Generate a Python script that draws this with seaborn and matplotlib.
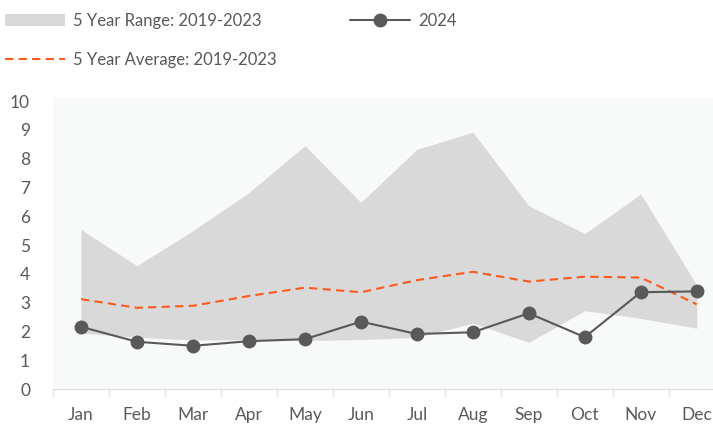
import matplotlib
matplotlib.use("Agg")
import matplotlib.pyplot as plt
from matplotlib.patches import Patch
from matplotlib.lines import Line2D
from matplotlib.ticker import FixedLocator
import numpy as np
import pandas as pd
import seaborn as sns

months = ["Jan", "Feb", "Mar", "Apr", "May", "Jun",
          "Jul", "Aug", "Sep", "Oct", "Nov", "Dec"]
range_high = [5.54, 4.28, 5.50, 6.82, 8.45, 6.48, 8.32, 8.92, 6.36, 5.40, 6.77, 3.61]
range_low = [1.94, 1.80, 1.70, 1.71, 1.68, 1.72, 1.79, 2.29, 1.62, 2.72, 2.45, 2.11]
avg_5yr = [3.12, 2.82, 2.89, 3.23, 3.52, 3.36, 3.78, 4.07, 3.73, 3.90, 3.87, 2.94]
y2024 = [2.16, 1.64, 1.50, 1.66, 1.73, 2.34, 1.91, 1.97, 2.63, 1.80, 3.36, 3.39]
y_ticks = list(range(0, 11))

label_range = "5 Year Range: 2019-2023"
label_avg = "5 Year Average: 2019-2023"
label_2024 = "2024"

df = pd.DataFrame({"month": months, "x": np.arange(len(months)),
                   "avg": avg_5yr, "y2024": y2024,
                   "low": range_low, "high": range_high})

sns.set_theme(style="white")
plt.rcParams["font.family"] = ["Lato", "DejaVu Sans"]

text_color = "#595959"
fill_color = "#d9d9d9"
orange = "#fc5a1e"
dark = "#595959"
fs = 12

fig = plt.figure(figsize=(7.13, 4.25), dpi=100)
ax = fig.add_axes([53 / 713, 36 / 425, 660 / 713, 292 / 425])
ax.set_facecolor("#f8f9f9")

ax.fill_between(df["x"], df["low"], df["high"], color=fill_color, lw=0, zorder=1)
sns.lineplot(data=df, x="x", y="avg", ax=ax, color=orange, lw=1.5,
             dashes=False, linestyle=(0, (4, 2.5)), zorder=2)
sns.lineplot(data=df, x="x", y="y2024", ax=ax, color=dark, lw=1.5,
             marker="o", markersize=10, markeredgewidth=0, zorder=3)

ax.set_xlim(-0.5, 11.29)
ax.set_ylim(0, 10.14)
ax.set_xticks(df["x"])
ax.set_xticklabels(months)
ax.xaxis.set_minor_locator(FixedLocator(np.arange(-0.5, 11.5, 1.0)))
ax.set_yticks(y_ticks)
ax.set_xlabel("")
ax.set_ylabel("")

for side in ["top", "right", "left"]:
    ax.spines[side].set_visible(False)
ax.spines["bottom"].set_color("#e2e2e2")
ax.spines["bottom"].set_linewidth(1.0)

ax.tick_params(axis="x", which="major", length=0, pad=13,
               labelsize=fs + 0.5, labelcolor=text_color)
ax.tick_params(axis="x", which="minor", bottom=True, length=6,
               width=1.0, color="#e2e2e2")
ax.tick_params(axis="y", length=0, pad=16.5, labelsize=fs + 0.5,
               labelcolor=text_color)
for lbl in ax.get_yticklabels():
    lbl.set_horizontalalignment("right")

handles = [
    Patch(facecolor=fill_color, edgecolor="none", label=label_range),
    Line2D([], [], color=orange, lw=1.5, linestyle=(0, (4, 2.5)), label=label_avg),
    Line2D([], [], color=dark, lw=1.5, marker="o", markersize=10,
           markeredgewidth=0, label=label_2024),
]
leg = fig.legend(handles=handles, ncol=2, loc="upper left",
                 bbox_to_anchor=(0.0, 0.981), frameon=False,
                 fontsize=fs, labelcolor=text_color,
                 handlelength=3.6, handleheight=0.75, handletextpad=0.5,
                 labelspacing=1.4, columnspacing=4.4,
                 borderpad=0.3, borderaxespad=0.0)

fig.savefig("out.png", dpi=100)
